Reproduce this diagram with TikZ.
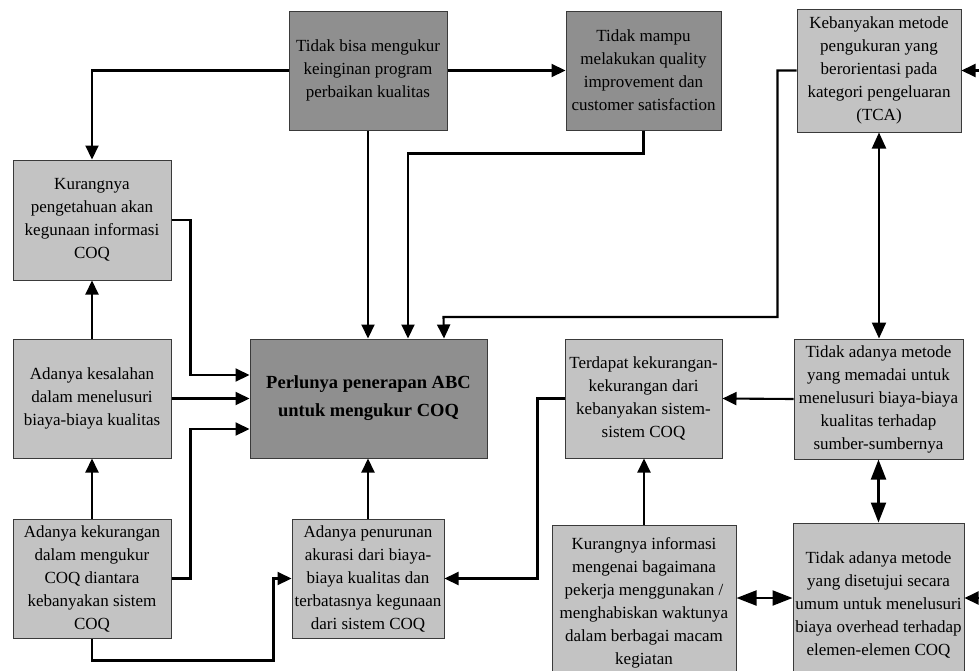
\documentclass[tikz,border=0pt]{standalone}
\usepackage{fontspec}
\setmainfont{Liberation Serif}
\usetikzlibrary{arrows.meta}
\definecolor{boxdark}{HTML}{8F8F8F}
\definecolor{boxlight}{HTML}{C3C3C3}
\definecolor{boxline}{HTML}{3A3A3A}
\begin{document}
\begin{tikzpicture}[x=1pt,y=-1pt,
  box/.style={draw=boxline, line width=1pt, rectangle, inner sep=0pt,
    align=center, text=black, font=\fontsize{17}{23}\selectfont},
  darkbox/.style={box, fill=boxdark},
  lightbox/.style={box, fill=boxlight},
  conn/.style={line width=2.1pt, -{Triangle[length=14pt,width=13pt]}},
  twoway/.style={line width=2.1pt, {Triangle[length=16pt,width=14pt]}-{Triangle[length=16pt,width=14pt]}},
  twowaybig/.style={line width=2.1pt, {Triangle[length=20pt,width=15pt]}-{Triangle[length=20pt,width=15pt]}},
]
\useasboundingbox (0,0) rectangle (979,670);
\clip (0,0) rectangle (979,670);
\fill[white] (0,0) rectangle (979,670);

% top row
\node[darkbox, minimum width=158pt, minimum height=119pt] (A) at (368,70.5)
  {Tidak bisa mengukur\\keinginan program\\perbaikan kualitas};
\node[darkbox, minimum width=155pt, minimum height=119pt] (B) at (643.5,70.5)
  {Tidak mampu\\melakukan quality\\improvement dan\\customer satisfaction};
\node[lightbox, minimum width=164pt, minimum height=123pt] (C) at (879,70.5)
  {Kebanyakan metode\\pengukuran yang\\berorientasi pada\\kategori pengeluaran\\(TCA)};

% left column
\node[lightbox, minimum width=158pt, minimum height=120pt] (D) at (92,220)
  {Kurangnya\\pengetahuan akan\\kegunaan informasi\\COQ};
\node[lightbox, minimum width=158pt, minimum height=119pt] (F) at (92,398.5)
  {Adanya kesalahan\\dalam menelusuri\\biaya-biaya kualitas};
\node[lightbox, minimum width=158pt, minimum height=119pt] (G) at (92,578.5)
  {Adanya kekurangan\\dalam mengukur\\COQ diantara\\kebanyakan sistem\\COQ};

% middle row
\node[darkbox, minimum width=237pt, minimum height=119pt,
  font=\fontsize{18.5}{28}\selectfont\bfseries] (E) at (368.5,398.5)
  {Perlunya penerapan ABC\\untuk mengukur COQ};
\node[lightbox, minimum width=157pt, minimum height=119pt] (H) at (643.5,398.5)
  {Terdapat kekurangan-\\kekurangan dari\\kebanyakan sistem-\\sistem COQ};
\node[lightbox, minimum width=169pt, minimum height=120pt] (I) at (878.5,399)
  {Tidak adanya metode\\yang memadai untuk\\menelusuri biaya-biaya\\kualitas terhadap\\sumber-sumbernya};

% bottom row
\node[lightbox, minimum width=152pt, minimum height=119pt] (J) at (368,578.5)
  {Adanya penurunan\\akurasi dari biaya-\\biaya kualitas dan\\terbatasnya kegunaan\\dari sistem COQ};
\node[lightbox, minimum width=184pt, minimum height=155pt] (K) at (644,602.5)
  {Kurangnya informasi\\mengenai bagaimana\\pekerja menggunakan /\\menghabiskan waktunya\\dalam berbagai macam\\kegiatan};
\node[lightbox, minimum width=171pt, minimum height=164pt] (L) at (878.5,605)
  {Tidak adanya metode\\yang disetujui secara\\umum untuk menelusuri\\biaya overhead terhadap\\elemen-elemen COQ};

% incoming arrows from the right margin
\coordinate (inC) at (990,70.5);
\coordinate (inL) at (990,598);

% connectors
\draw[conn] (A.west) -| (D.north);
\draw[conn] (A.east) -- (B.west);
\draw[conn] (A.south) -- (A.south |- E.north);
\draw[conn] (B.south) -- ++(0,23) -| ([xshift=39.5pt]E.north);
\draw[conn] (C.west) -- ++(-19,0) |- ++(-334,246.5) -- ([xshift=75.5pt]E.north);
\draw[twoway] (C.south) -- (C.south |- I.north);
\draw[conn] (F.north) -- (D.south);
\draw[conn] (D.east) -- ++(19,0) |- ([yshift=23.5pt]E.west);
\draw[conn] (F.east) -- (E.west);
\draw[conn] (G.east) -- ++(19,0) |- ([yshift=-30.5pt]E.west);
\draw[conn] (G.north) -- (F.south);
\draw[conn] (G.south) -- ++(0,22) -| ([xshift=-18pt]J.west) -- (J.west);
\draw[conn] (J.north) -- (J.north |- E.south);
\draw[conn] (H.west) -- ++(-27,0) |- (J.east);
\draw[conn] (I.west) -- (H.east);
\draw[conn] (K.north) -- (K.north |- H.south);
\draw[twowaybig] (I.south) -- (I.south |- L.north);
\draw[twowaybig] ([yshift=4.5pt]K.east) -- ([yshift=4.5pt]K.east -| L.west);
\draw[conn] (inC) -- (C.east);
\draw[conn] (inL) -- (inL -| L.east);
\end{tikzpicture}
\end{document}
